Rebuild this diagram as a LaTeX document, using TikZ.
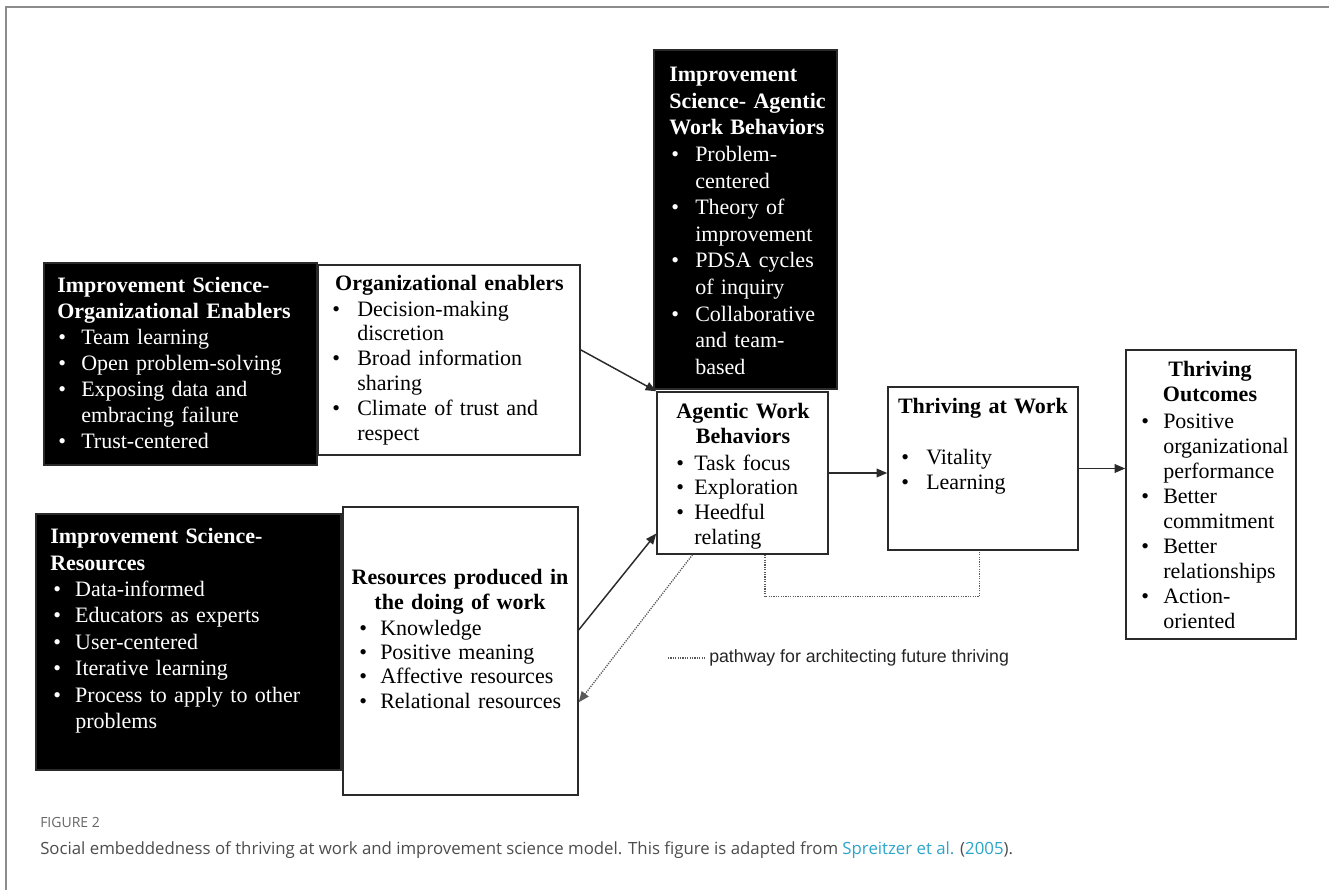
\documentclass[tikz,border=0pt]{standalone}
\usepackage{fontspec}
\setmainfont{Liberation Serif}
\newfontfamily\capfont{Open Sans}
\newfontfamily\legfont{Liberation Sans}
\usetikzlibrary{arrows.meta,fit,calc}
\definecolor{framec}{HTML}{8C8C8C}
\definecolor{capgray}{HTML}{4D4D4D}
\definecolor{figgray}{HTML}{666666}
\definecolor{linkc}{HTML}{2BA6CB}
\definecolor{edgec}{HTML}{2A2A2A}
\newlength\bo
\newlength\ti
\newcommand{\itm}[1]{\par\noindent\hangindent=\ti\hangafter=1\hbox to \ti{\hskip\bo\textbullet\hfil}\strut#1\strut}
\newcommand{\setli}[2]{\setlength\bo{#1}\setlength\ti{#2}}
\tikzset{
  blk/.style={fill=black, draw=edgec, line width=1pt},
  wht/.style={fill=white, draw=edgec, line width=1.1pt},
  fs/.style={font=\fontsize{16.5}{#1}\selectfont},
  fsb/.style={font=\fontsize{16.5}{#1}\selectfont\bfseries},
  lst/.style={anchor=north west, inner sep=0pt, align=left, text width=#1},
  hd/.style={anchor=north, inner sep=0pt, align=center, text width=#1},
  arr/.style={-{Triangle[length=8pt,width=6.5pt]}, line width=1.1pt, draw=edgec},
  dotl/.style={line width=1pt, draw=black!65, dash pattern=on 0.9pt off 0.9pt},
  darr/.style={dotl, -{Triangle[length=8pt,width=6.5pt]}},
}
\begin{document}
\begin{tikzpicture}[x=0.75pt,y=-0.75pt]
\fill[white] (0,0) rectangle (1329,890);
\useasboundingbox (0,0) rectangle (1329,890);
\draw[framec, line width=1.5pt] (6,890) -- (6,7) -- (1329,7);

% boxes
\node[fit={(44,263) (317,465)}, inner sep=0pt, blk] (b1) {};
\node[fit={(318,265) (580,455)}, inner sep=0pt, wht] (b2) {};
\node[fit={(36,514) (341,770)}, inner sep=0pt, blk] (b3) {};
\node[fit={(343,507) (578,795)}, inner sep=0pt, wht] (b4) {};
\node[fit={(654,50) (837,389)}, inner sep=0pt, blk] (b5) {};
\node[fit={(657,392) (828,554)}, inner sep=0pt, wht] (b6) {};
\node[fit={(888,387) (1078,550)}, inner sep=0pt, wht] (b7) {};
\node[fit={(1126,350) (1296,639)}, inner sep=0pt, wht] (b8) {};

% box 1
\node[lst=200pt, fs=19.5pt, text=white] (t1) at (57,274.3) {\setli{0.75pt}{18pt}%
{\bfseries\strut Improvement Science-\newline Organizational Enablers\par}%
\itm{Team learning}\itm{Open problem-solving}\itm{Exposing data and\newline embracing failure}\itm{Trust-centered}\par};

% box 2
\node[hd=190pt, fsb=18.6pt] (h2) at (449.5,273.1) {\strut Organizational enablers};
\node[lst=180pt, fs=18.6pt] (t2) at (332,291.1) {\setli{0pt}{18.75pt}%
\itm{Decision-making\newline discretion}\itm{Broad information\newline sharing}\itm{Climate of trust and\newline respect}\par};

% box 3
\node[lst=220pt, fs=19.8pt, text=white] (t3) at (50,525) {\setli{2.25pt}{18.75pt}%
{\bfseries\strut Improvement Science-\newline Resources\par}%
\itm{Data-informed}\itm{Educators as experts}\itm{User-centered}\itm{Iterative learning}\itm{Process to apply to other\newline problems}\par};

% box 4
\node[hd=170pt, fsb=18.3pt] (h4) at (460,567.4) {\strut Resources produced in\\the doing of work};
\node[lst=170pt, fs=18.3pt] (t4) at (359,610.4) {\setli{0pt}{15.75pt}%
\itm{Knowledge}\itm{Positive meaning}\itm{Affective resources}\itm{Relational resources}\par};

% box 5
\node[lst=130pt, fs=19.95pt, text=white] (t5) at (669,62.9) {\setli{1.5pt}{19.5pt}%
{\bfseries\strut Improvement\newline Science- Agentic\newline Work Behaviors\par}%
\itm{Problem-\newline centered}\itm{Theory of\newline improvement}\itm{PDSA cycles\newline of inquiry}\itm{Collaborative\newline and team-\newline based}\par};

% box 6
\node[hd=125pt, fsb=18.6pt] (h6) at (743,401.1) {\strut Agentic Work\\Behaviors};
\node[lst=120pt, fs=18.6pt] (t6) at (676,445) {\setli{0pt}{13.5pt}%
\itm{Task focus}\itm{Exploration}\itm{Heedful\newline relating}\par};

% box 7
\node[hd=140pt, fsb=18.75pt] (h7) at (983,396) {\strut Thriving at Work};
\node[lst=130pt, fs=18.75pt] (t7) at (901,439) {\setli{0pt}{18.75pt}%
\itm{Vitality}\itm{Learning}\par};

% box 8
\node[hd=125pt, fsb=18.75pt] (h8) at (1210,359) {\strut Thriving\\Outcomes};
\node[lst=125pt, fs=18.75pt] (t8) at (1141,403) {\setli{0pt}{16.5pt}%
\itm{Positive\newline organizational\newline performance}\itm{Better\newline commitment}\itm{Better\newline relationships}\itm{Action-\newline oriented}\par};

% connectors
\draw[arr] ($(b2.north east)!0.447!(b2.south east)$) -- (b6.north west);
\draw[arr] ($(b4.north east)!0.427!(b4.south east)$) -- ($(b6.north west)!0.87!(b6.south west)$);
\draw[darr] ($(b6.south west)!0.21!(b6.south east)$) -- ($(b4.north east)!0.677!(b4.south east)$);
\draw[arr] (b6.east) -- (b6.east -| b7.west);
\draw[arr] (b7.east) -- (b7.east -| b8.west);
\draw[dotl] ($(b6.south west)!0.63!(b6.south east)$) -- ++(0,42) -| ($(b7.south west)!0.48!(b7.south east)$);

% legend
\coordinate (l1) at (668,658);
\coordinate (l2) at (705,658);
\draw[dotl] (l1) -- (l2);
\node[anchor=west, inner sep=0pt, font=\legfont\fontsize{13.3}{16}\selectfont, text=black!85] (leg) at (709,658) {pathway for architecting future thriving};

% caption
\node[anchor=base west, inner sep=0pt, font=\capfont\fontsize{10.5}{12}\selectfont, text=figgray] (fig) at (40,827) {FIGURE 2};
\node[anchor=base west, inner sep=0pt, font=\capfont\fontsize{12.6}{15}\selectfont, text=capgray] (cap) at (40,854) {Social embeddedness of thriving at work and improvement science model. This figure is adapted from \textcolor{linkc}{Spreitzer et al.} (\textcolor{linkc}{2005}).};
\end{tikzpicture}
\end{document}
